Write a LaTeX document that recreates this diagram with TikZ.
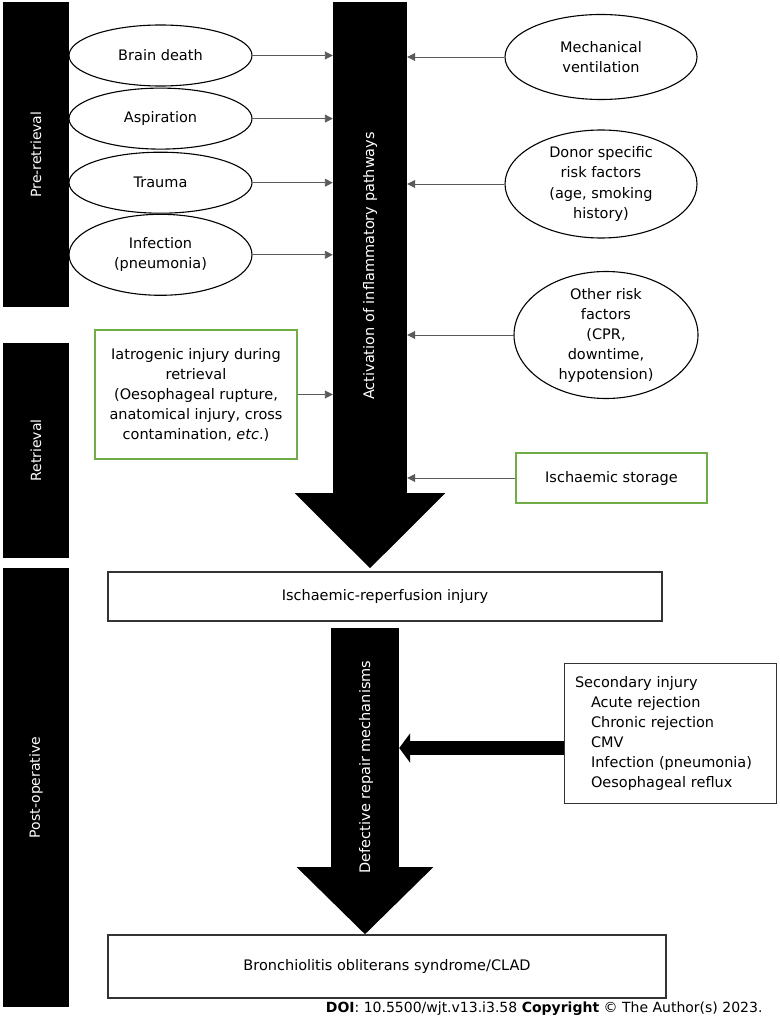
\documentclass[tikz,border=0pt]{standalone}
\usepackage{fontspec}
\setmainfont{DejaVu Sans}
\usetikzlibrary{arrows.meta,positioning,shapes.geometric}
\definecolor{boxgreen}{RGB}{112,173,71}
\definecolor{linegray}{RGB}{90,90,90}

\begin{document}
\begin{tikzpicture}[x=1pt, y=-1pt, every node/.style={font=\fontsize{14.5}{20}\selectfont}]
\tikzset{phase/.style={fill=black, text=white, rotate=90, minimum height=66pt, inner sep=0pt, font=\fontsize{14}{20}\selectfont}}
\tikzset{cause/.style={draw, ellipse, align=center, inner xsep=0pt, inner ysep=-8pt, line width=1.1pt}}
\tikzset{greenbox/.style={draw=boxgreen, line width=1.2pt, align=center, inner sep=0pt}}
\tikzset{outcome/.style={draw=black!80, line width=1.3pt, minimum width=554pt, inner sep=0pt}}
\tikzset{shaft/.style={fill=black, inner sep=0pt}}
\tikzset{shafttext/.style={text=white, rotate=90}}
\tikzset{feed/.style={draw=linegray, line width=0.9pt, -{Triangle[length=8pt,width=8pt]}}}
\useasboundingbox (0,0) rectangle (779,1024);
% phases
\node[phase, minimum width=305pt] (pre) at (36,154.5) {Pre-retrieval};
\node[phase, minimum width=215pt] (ret) at (36,450.5) {Retrieval};
\node[phase, minimum width=439pt] (post) at (36,787.5) {Post-operative};
% big arrows
\node[shaft, minimum width=74pt, minimum height=491pt] (act) at (370,247.5) {};
\fill ([xshift=-38pt]act.south west) -- ([xshift=38pt]act.south east) -- ([yshift=-75pt]act.south) -- cycle;
\node[shafttext] at (370,266) {Activation of inflammatory pathways};
\node[shaft, minimum width=68pt, minimum height=239pt] (rep) at (365,747.5) {};
\fill ([xshift=-34pt]rep.south west) -- ([xshift=34pt]rep.south east) -- ([yshift=-67pt]rep.south) -- cycle;
\node[shafttext] at (366,767) {Defective repair mechanisms};
% causes
\node[cause, minimum width=183pt, minimum height=61pt] (brain) at (160.5,55.5) {Brain death};
\node[cause, minimum width=183pt, minimum height=61pt, below=1pt of brain] (asp) {Aspiration};
\node[cause, minimum width=183pt, minimum height=61pt, below=2pt of asp] (trauma) {Trauma};
\node[cause, minimum width=183pt, minimum height=81pt, below=0pt of trauma] (infect) {Infection\\(pneumonia)};
\node[cause, minimum width=192pt, minimum height=85pt] (mech) at (601,57) {Mechanical\\ventilation};
\node[cause, minimum width=192pt, minimum height=108pt] (donor) at (601,184) {Donor specific\\risk factors\\(age, smoking\\history)};
\node[cause, minimum width=184pt, minimum height=127pt] (other) at (606,335) {Other risk\\factors\\(CPR,\\downtime,\\hypotension)};
\node[greenbox, minimum width=202pt, minimum height=129pt] (iatro) at (196,394.5) {Iatrogenic injury during\\retrieval\\(Oesophageal rupture,\\anatomical injury, cross\\contamination, \textit{etc}.)};
\node[greenbox, minimum width=191pt, minimum height=50pt] (store) at (611.5,478) {Ischaemic storage};
% outcomes
\node[outcome, minimum height=49pt] (irinj) at (385,596.5) {Ischaemic-reperfusion injury};
\node[outcome, minimum width=558pt, minimum height=63pt] (bos) at (387,966.5) {Bronchiolitis obliterans syndrome/CLAD};
\node[draw=black!80, line width=1pt, minimum width=212pt, minimum height=140pt, text width=190pt, inner xsep=11pt, align=left] (second) at (670,733) {Secondary injury\\\hspace*{16pt}Acute rejection\\\hspace*{16pt}Chronic rejection\\\hspace*{16pt}CMV\\\hspace*{16pt}Infection (pneumonia)\\\hspace*{16pt}Oesophageal reflux};
% connectors
\draw[feed] (brain) -- (brain -| act.west);
\draw[feed] (asp) -- (asp -| act.west);
\draw[feed] (trauma) -- (trauma -| act.west);
\draw[feed] (infect) -- (infect -| act.west);
\draw[feed] (iatro) -- (iatro -| act.west);
\draw[feed] (mech) -- (mech -| act.east);
\draw[feed] (donor) -- (donor -| act.east);
\draw[feed] (other) -- (other -| act.east);
\draw[feed] (store) -- (store -| act.east);
\draw[line width=14pt, -{Triangle[length=11pt,width=29pt]}] ([yshift=-15pt]second.west) -- ([yshift=-15pt]second.west -| rep.east);
\node[anchor=base east, font=\fontsize{14}{16}\selectfont] (doi) at (766,1012) {\textbf{DOI}: 10.5500/wjt.v13.i3.58 \textbf{Copyright} © The Author(s) 2023.};
\end{tikzpicture}
\end{document}
